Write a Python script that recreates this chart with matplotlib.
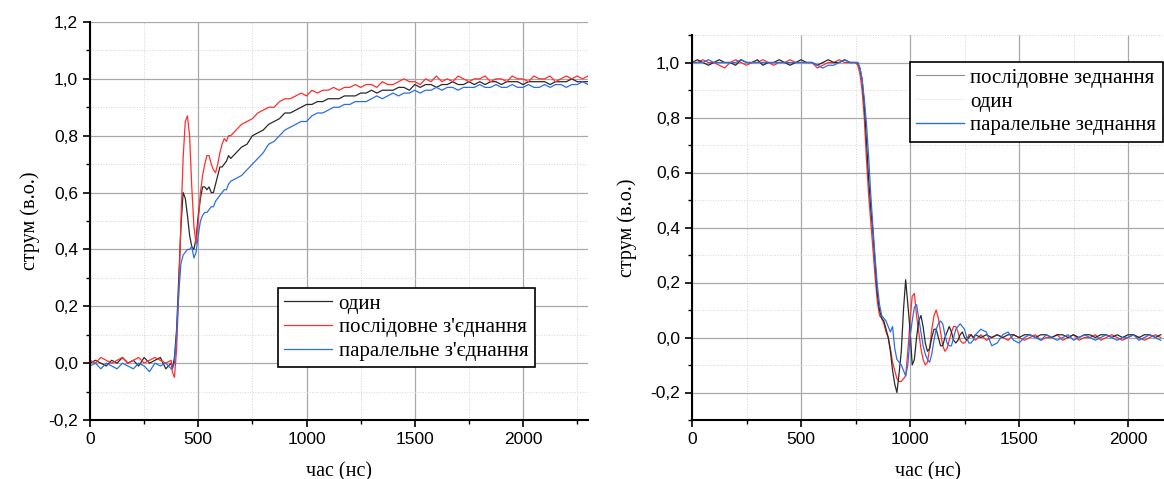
import matplotlib
matplotlib.use("Agg")
import matplotlib.pyplot as plt
from matplotlib.ticker import MultipleLocator, FuncFormatter
from matplotlib.lines import Line2D

# ---- left chart data (час, нс / струм, в.о.) ----
t_left = list(range(0, 376, 25)) + list(range(380, 651, 10)) + list(range(675, 2301, 25))

odyn_left = [0.00, 0.01, 0.00, -0.01, 0.01, 0.00, 0.02, 0.00, 0.01, -0.01, 0.02, 0.00, 0.01, 0.02, -0.02, 0.00,
             -0.02, 0.02, 0.12, 0.30, 0.48, 0.60, 0.58, 0.52, 0.45, 0.41, 0.40, 0.44, 0.52, 0.58, 0.62, 0.62,
             0.61, 0.62, 0.60, 0.60, 0.63, 0.66, 0.69, 0.69, 0.70, 0.71, 0.73, 0.72,
             0.74, 0.76, 0.77, 0.80, 0.81, 0.82, 0.84, 0.85, 0.86, 0.88, 0.88, 0.89, 0.90, 0.91, 0.91, 0.92,
             0.92, 0.93, 0.93, 0.93, 0.94, 0.94, 0.94, 0.95, 0.95, 0.96, 0.95, 0.96, 0.96, 0.96, 0.97, 0.97,
             0.96, 0.98, 0.97, 0.98, 0.98, 0.97, 0.98, 0.98, 0.99, 0.98, 0.98, 0.99, 0.98, 0.99, 0.98, 0.99,
             0.99, 0.98, 0.99, 0.99, 0.99, 0.98, 0.99, 0.99, 0.99, 0.99, 0.98, 0.99, 0.99, 0.99, 1.00, 0.99,
             0.99, 0.99]
posl_left = [0.01, 0.00, 0.02, 0.01, 0.00, 0.01, 0.02, 0.00, 0.01, 0.02, 0.00, 0.01, 0.02, 0.01, 0.00, 0.01,
             -0.03, -0.05, 0.05, 0.25, 0.50, 0.72, 0.85, 0.87, 0.80, 0.62, 0.48, 0.42, 0.50, 0.60, 0.66, 0.70,
             0.73, 0.73, 0.70, 0.68, 0.67, 0.70, 0.74, 0.77, 0.79, 0.78, 0.80, 0.80,
             0.82, 0.84, 0.85, 0.86, 0.88, 0.89, 0.90, 0.90, 0.92, 0.93, 0.93, 0.94, 0.95, 0.94, 0.96, 0.95,
             0.96, 0.96, 0.97, 0.96, 0.97, 0.97, 0.98, 0.97, 0.98, 0.98, 0.97, 0.99, 0.98, 0.98, 0.99, 1.00,
             0.99, 0.99, 0.98, 1.00, 0.99, 1.01, 0.99, 1.00, 0.99, 1.01, 1.00, 0.99, 1.00, 1.00, 1.01, 0.99,
             1.00, 1.00, 0.99, 1.01, 1.00, 1.00, 0.99, 1.01, 1.00, 1.00, 1.01, 0.99, 1.00, 1.01, 1.00, 1.01,
             1.00, 1.01]
par_left = [-0.01, 0.00, -0.02, 0.00, -0.01, -0.02, 0.00, -0.01, -0.02, 0.00, -0.01, -0.03, 0.00, -0.01, 0.00, -0.02,
            -0.02, 0.00, 0.10, 0.25, 0.35, 0.38, 0.39, 0.40, 0.40, 0.41, 0.37, 0.39, 0.45, 0.50, 0.52, 0.53,
            0.53, 0.54, 0.55, 0.55, 0.57, 0.58, 0.59, 0.60, 0.61, 0.61, 0.63, 0.64,
            0.65, 0.66, 0.68, 0.70, 0.72, 0.74, 0.77, 0.78, 0.80, 0.82, 0.83, 0.84, 0.85, 0.85, 0.87, 0.88,
            0.88, 0.89, 0.90, 0.90, 0.91, 0.91, 0.92, 0.92, 0.92, 0.93, 0.94, 0.93, 0.94, 0.95, 0.94, 0.95,
            0.95, 0.96, 0.95, 0.96, 0.96, 0.97, 0.96, 0.97, 0.97, 0.96, 0.97, 0.97, 0.97, 0.98, 0.97, 0.97,
            0.98, 0.97, 0.97, 0.98, 0.97, 0.97, 0.98, 0.97, 0.97, 0.98, 0.97, 0.98, 0.98, 0.97, 0.98, 0.98,
            0.99, 0.98]

# ---- right chart data ----
t_right = list(range(0, 751, 25)) + list(range(760, 1301, 10)) + list(range(1325, 2151, 25))

odyn_right = [1.00, 1.01, 1.00, 0.99, 1.00, 1.01, 1.00, 1.00, 0.99, 1.01, 1.00, 1.00, 1.01, 0.99, 1.00, 1.00,
              1.01, 1.00, 0.99, 1.00, 1.01, 1.00, 1.00, 0.99, 1.00, 1.01, 1.00, 1.00, 1.01, 1.00, 1.00,
              1.00, 0.98, 0.94, 0.85, 0.72, 0.58, 0.47, 0.38, 0.27, 0.16, 0.10, 0.07, 0.06, 0.03, 0.00, -0.05,
              -0.12, -0.17, -0.20, -0.13, -0.05, 0.10, 0.21, 0.12, 0.03, -0.10, -0.08, 0.00, 0.06, 0.08, 0.04,
              -0.02, -0.05, -0.04, 0.00, 0.03, 0.03, 0.00, -0.03, -0.03, 0.00, 0.02, 0.04, 0.02, -0.01, -0.02,
              -0.01, 0.01, 0.02, 0.00, -0.01, 0.00, 0.01, 0.00, 0.01,
              0.00, 0.01, 0.00, 0.01, 0.00, 0.01, 0.01, 0.00, 0.01, 0.01, 0.00, 0.01, 0.01, 0.00, 0.01, 0.01,
              0.00, 0.01, 0.00, 0.01, 0.01, 0.00, 0.01, 0.01, 0.00, 0.01, 0.00, 0.01, 0.01, 0.00, 0.01, 0.01,
              0.00, 0.01]
posl_right = [1.00, 1.00, 1.01, 1.00, 1.00, 0.99, 0.98, 1.00, 1.01, 1.00, 0.99, 1.00, 1.00, 1.01, 1.00, 0.99,
              1.00, 1.00, 1.01, 1.00, 1.00, 1.00, 1.00, 0.98, 0.99, 1.00, 1.00, 1.01, 1.00, 1.00, 1.00,
              0.99, 0.96, 0.90, 0.80, 0.65, 0.52, 0.42, 0.32, 0.22, 0.13, 0.08, 0.07, 0.05, 0.02, 0.00, -0.04,
              -0.09, -0.12, -0.15, -0.16, -0.16, -0.15, -0.14, -0.05, 0.06, 0.15, 0.16, 0.08, 0.02, -0.04, -0.08,
              -0.10, -0.09, -0.04, 0.03, 0.08, 0.10, 0.07, 0.02, -0.03, -0.05, -0.04, -0.01, 0.02, 0.04, 0.04,
              0.02, -0.01, -0.02, -0.02, -0.01, 0.01, 0.01, 0.00, -0.01,
              0.01, -0.01, 0.00, 0.01, 0.00, -0.01, 0.01, 0.00, -0.01, 0.00, 0.01, -0.01, 0.00, 0.00, 0.01, -0.01,
              0.00, 0.01, -0.01, 0.00, 0.00, 0.01, -0.01, 0.00, 0.01, 0.00, -0.01, 0.00, 0.01, 0.00, -0.01, 0.00,
              0.01, 0.00]
par_right = [1.00, 1.00, 1.00, 1.01, 1.00, 1.00, 1.00, 1.00, 1.00, 1.01, 1.00, 1.00, 1.00, 1.00, 1.00, 1.00,
             1.00, 1.00, 1.00, 1.00, 1.00, 1.00, 1.00, 0.99, 0.98, 0.99, 0.99, 1.00, 1.01, 1.00, 1.00,
             1.00, 0.98, 0.94, 0.87, 0.78, 0.66, 0.52, 0.40, 0.29, 0.19, 0.12, 0.08, 0.07, 0.06, 0.04, 0.02,
             0.04, -0.04, -0.08, -0.09, -0.10, -0.12, -0.14, -0.10, 0.00, 0.06, 0.11, 0.12, 0.07, 0.02, -0.03,
             -0.06, -0.08, -0.09, -0.06, -0.01, 0.03, 0.05, 0.06, 0.05, 0.01, -0.02, -0.03, -0.03, 0.00, 0.03,
             0.04, 0.05, 0.04, 0.03, 0.00, -0.02, -0.02, -0.01, 0.01,
             0.03, 0.02, -0.03, -0.02, 0.01, 0.02, -0.01, -0.02, 0.00, 0.01, 0.00, -0.01, 0.01, 0.00, -0.01, 0.00,
             0.01, -0.01, 0.00, 0.01, 0.00, -0.01, 0.00, 0.01, 0.00, -0.01, 0.00, 0.00, 0.01, -0.01, 0.00, 0.01,
             0.00, -0.01]

c_black = '#2a2a2a'
c_red = '#ff2e2e'
c_blue = '#2b6fe6'

serif = 'Liberation Serif'
sans = 'Liberation Sans'

comma = FuncFormatter(lambda v, p: ('%.1f' % v).replace('.', ','))


def style_axes(ax):
    for s in ['top', 'right']:
        ax.spines[s].set_visible(False)
    for s in ['left', 'bottom']:
        ax.spines[s].set_linewidth(1.5)
    ax.xaxis.set_major_locator(MultipleLocator(500))
    ax.xaxis.set_minor_locator(MultipleLocator(250))
    ax.yaxis.set_major_locator(MultipleLocator(0.2))
    ax.yaxis.set_minor_locator(MultipleLocator(0.1))
    ax.yaxis.set_major_formatter(comma)
    ax.grid(which='major', color='#a8a8a8', linewidth=0.9)
    ax.grid(which='minor', color='#d4d4d4', linewidth=0.7, linestyle=':')
    ax.tick_params(which='major', direction='out', length=5, width=1.2, labelsize=12.5)
    ax.tick_params(which='minor', direction='out', length=3, width=1)
    for lab in ax.get_xticklabels() + ax.get_yticklabels():
        lab.set_family(sans)
    ax.set_xlabel('час (нс)', fontsize=14.5, family=serif, labelpad=11)
    ax.set_ylabel('струм (в.о.)', fontsize=14.5, family=serif, labelpad=6)


legend_kw = dict(loc='upper left', borderaxespad=0, fancybox=False, edgecolor='black',
                 framealpha=1, handlelength=2.3, handletextpad=0.3, labelspacing=0.2,
                 borderpad=0.3, prop={'family': serif, 'size': 15})

fig = plt.figure(figsize=(11.64, 4.79), dpi=100)

# left
ax1 = fig.add_axes([90 / 1164, 1 - 420 / 479, 498 / 1164, 398 / 479])
ax1.plot(t_left, odyn_left, color=c_black, lw=0.9, label='один')
ax1.plot(t_left, posl_left, color=c_red, lw=0.9, label="послідовне з'єднання")
ax1.plot(t_left, par_left, color=c_blue, lw=0.9, label="паралельне з'єднання")
ax1.set_xlim(0, 2300)
ax1.set_ylim(-0.2, 1.2)
style_axes(ax1)
leg1 = ax1.legend(bbox_to_anchor=(0.378, 0.332), **legend_kw)
leg1.get_frame().set_linewidth(1.2)

# right
ax2 = fig.add_axes([692 / 1164, 1 - 420 / 479, 472 / 1164, 385 / 479])
ax2.plot(t_right, posl_right, color=c_red, lw=0.9)
ax2.plot(t_right, odyn_right, color=c_black, lw=0.9)
ax2.plot(t_right, par_right, color=c_blue, lw=0.9)
ax2.set_xlim(0, 2165)
ax2.set_ylim(-0.3, 1.1)
style_axes(ax2)
ax2.yaxis.labelpad = 10
handles = [Line2D([], [], color='#909090', lw=0.8),
           Line2D([], [], color='#f0f0f0', lw=0.8),
           Line2D([], [], color=c_blue, lw=1)]
leg2 = ax2.legend(handles, ['послідовне зеднання', 'один', 'паралельне зеднання'],
                  bbox_to_anchor=(0.462, 0.93), **legend_kw)
leg2.get_frame().set_linewidth(1.2)

fig.savefig('out.png', dpi=100)
